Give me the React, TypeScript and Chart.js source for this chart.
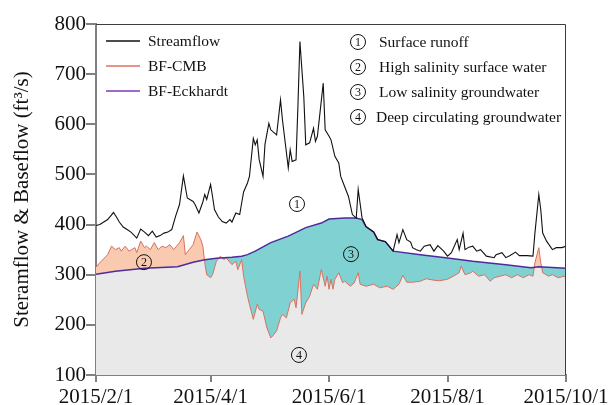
import { useEffect, useRef } from "react";
import { Chart, registerables } from "chart.js";

Chart.register(...registerables);

// Days counted from 2015/2/1
const tickDays = [0, 59, 120, 181, 242];
const tickLabels = ["2015/2/1", "2015/4/1", "2015/6/1", "2015/8/1", "2015/10/1"];

const streamDays = [
  0, 2, 4, 6, 9, 11, 12, 14, 16, 18, 21, 23, 25, 27, 29, 31, 33, 35, 37, 39,
  41, 43, 45, 47, 50, 51, 53, 55, 56, 57, 59, 60, 61, 63, 65, 67, 69, 70, 72, 74,
  75, 76, 78, 79, 81, 82, 83, 84, 86, 87, 89, 90, 93, 95, 96, 99, 100, 101, 103, 104,
  105, 107, 108, 110, 112, 113, 114, 117, 118, 120, 121, 123, 125, 126, 128, 130, 132, 134, 135, 137,
  139, 143, 145, 149, 153, 155, 156, 158, 160, 162, 163, 165, 167, 169, 172, 174, 176, 179, 181, 183,
  186, 187, 189, 190, 192, 194, 196, 198, 201, 205, 206, 209, 211, 213, 216, 218, 222, 225, 226, 228,
  229, 230, 232, 235, 237, 240, 242,
];
const streamFlow = [
  398, 400, 405, 410, 424, 412, 405, 395, 390, 385, 373, 391, 385, 378, 387, 375, 378, 383, 385, 390,
  417, 440, 497, 453, 446, 440, 423, 445, 460, 450, 480, 456, 430, 415, 406, 403, 410, 405, 423, 420,
  443, 465, 483, 496, 572, 559, 569, 530, 496, 560, 602, 589, 579, 649, 609, 513, 549, 526, 529, 640,
  765, 655, 559, 563, 592, 566, 576, 682, 589, 576, 569, 536, 523, 496, 476, 456, 420, 413, 470, 413,
  396, 385, 370, 366, 347, 380, 364, 390, 370, 365, 354, 350, 347, 357, 360, 347, 358, 347, 337, 344,
  370, 350, 383, 350, 355, 357, 347, 350, 337, 334, 340, 344, 334, 338, 345, 338, 338, 337, 383, 460,
  430, 383, 367, 350, 354, 354, 357,
];

const cmbDays = [
  0, 2, 6, 8, 10, 12, 13, 15, 17, 20, 21, 23, 25, 26, 28, 30, 32, 34, 36, 38,
  40, 43, 45, 46, 48, 50, 52, 54, 55, 56, 57, 59, 60, 62, 64, 66, 67, 70, 72, 73,
  75, 76, 78, 79, 81, 83, 84, 86, 88, 90, 91, 93, 95, 96, 98, 100, 102, 103, 105, 106,
  108, 110, 112, 114, 116, 118, 119, 120, 121, 122, 123, 125, 127, 128, 131, 133, 135, 136, 139, 143,
  146, 150, 153, 156, 158, 160, 163, 167, 170, 174, 177, 181, 184, 187, 188, 190, 193, 194, 197, 200,
  203, 205, 208, 211, 214, 217, 220, 223, 225, 226, 228, 229, 230, 233, 235, 238, 241, 242,
];
const cmbFlow = [
  315, 324, 340, 357, 350, 354, 347, 357, 347, 354, 344, 367, 354, 357, 350, 364, 350, 357, 354, 360,
  350, 364, 378, 340, 350, 360, 385, 370, 357, 324, 300, 294, 300, 327, 337, 330, 334, 320, 327, 310,
  330, 297, 257, 241, 211, 241, 231, 227, 194, 174, 178, 188, 214, 221, 214, 244, 251, 234, 307, 221,
  244, 257, 281, 271, 310, 277, 297, 271, 291, 271, 291, 304, 284, 287, 277, 284, 304, 281, 277, 281,
  274, 277, 271, 281, 299, 285, 285, 287, 292, 289, 288, 291, 297, 304, 317, 300, 304, 307, 297, 300,
  287, 294, 297, 300, 294, 300, 294, 300, 297, 324, 354, 324, 304, 297, 300, 294, 297, 294,
];

const eckDays = [
  0, 10, 25, 42, 50, 56, 62, 70, 75, 78, 82, 90, 99, 108, 116, 120, 128, 134, 137, 139,
  143, 145, 149, 153, 167, 180, 194, 211, 224, 228, 242,
];
const eckFlow = [
  301, 307, 313, 316, 325, 330, 333, 335, 337, 340, 347, 364, 377, 394, 403, 411, 413, 413, 410, 396,
  385, 370, 366, 347, 340, 334, 327, 320, 314, 316, 313,
];

const seriesNames = ["Streamflow", "BF-CMB", "BF-Eckhardt"];
const seriesColors = ["#111111", "#d9705f", "#4f2a9c"];
const legendColors = ["#111111", "#e0705f", "#8038b8"];
const zoneNumbers = ["1", "2", "3", "4"];
const zoneLabels = [
  "Surface runoff",
  "High salinity surface water",
  "Low salinity groundwater",
  "Deep circulating groundwater",
];

const toPoints = (xs: number[], ys: number[]) => xs.map((x, i) => ({ x, y: ys[i] }));

const SERIF = "'Liberation Serif', 'Times New Roman', serif";

function circled(ctx: CanvasRenderingContext2D, x: number, y: number, label: string) {
  ctx.beginPath();
  ctx.arc(x, y, 7.5, 0, Math.PI * 2);
  ctx.lineWidth = 1;
  ctx.strokeStyle = "#111";
  ctx.stroke();
  ctx.font = `12px ${SERIF}`;
  ctx.textAlign = "center";
  ctx.textBaseline = "middle";
  ctx.fillStyle = "#111";
  ctx.fillText(label, x, y + 0.5);
}

const decorPlugin = {
  id: "decor",
  afterDraw(chart: any) {
    const { ctx, chartArea: a, scales } = chart;
    const xs = scales.x;
    const ys = scales.y;
    ctx.save();

    // frame on top and right
    ctx.strokeStyle = "#3c3c3c";
    ctx.lineWidth = 1;
    ctx.beginPath();
    ctx.moveTo(a.left, a.top + 0.5);
    ctx.lineTo(a.right - 0.5, a.top + 0.5);
    ctx.lineTo(a.right - 0.5, a.bottom);
    ctx.stroke();

    // series legend
    seriesNames.forEach((name, i) => {
      const y = a.top + 17 + i * 25;
      ctx.strokeStyle = legendColors[i];
      ctx.lineWidth = 1.5;
      ctx.beginPath();
      ctx.moveTo(a.left + 10, y);
      ctx.lineTo(a.left + 44, y);
      ctx.stroke();
      ctx.fillStyle = "#111";
      ctx.font = `15.5px ${SERIF}`;
      ctx.textAlign = "left";
      ctx.textBaseline = "middle";
      ctx.fillText(name, a.left + 52, y + 1);
    });

    // zone key
    zoneLabels.forEach((label, i) => {
      const y = a.top + 18 + i * 25;
      circled(ctx, a.left + 262, y, zoneNumbers[i]);
      ctx.fillStyle = "#111";
      ctx.font = `15.5px ${SERIF}`;
      ctx.textAlign = "left";
      ctx.textBaseline = "middle";
      ctx.fillText(label, a.left + (i === 3 ? 280 : 283), y + 1);
    });

    // zone markers inside the plot (day, flow)
    const marks: [number, number, string][] = [
      [103.5, 441, zoneNumbers[0]],
      [24.7, 325, zoneNumbers[1]],
      [131.3, 341, zoneNumbers[2]],
      [104.5, 140, zoneNumbers[3]],
    ];
    marks.forEach(([d, v, t]) => circled(ctx, xs.getPixelForValue(d), ys.getPixelForValue(v), t));

    ctx.restore();
  },
};

export default function App() {
  const ref = useRef<HTMLCanvasElement | null>(null);

  useEffect(() => {
    if (!ref.current) return;
    const cmbPoints = toPoints(cmbDays, cmbFlow);
    const chart = new Chart(ref.current, {
      type: "line",
      data: {
        datasets: [
          {
            label: seriesNames[0],
            data: toPoints(streamDays, streamFlow),
            borderColor: seriesColors[0],
            borderWidth: 1.1,
            pointRadius: 0,
            fill: false,
            order: 1,
          },
          {
            label: seriesNames[1],
            data: cmbPoints,
            borderColor: seriesColors[1],
            borderWidth: 1,
            pointRadius: 0,
            fill: { target: 2, above: "#f9caaf", below: "#80d2d2" },
            order: 5,
          },
          {
            label: seriesNames[2],
            data: toPoints(eckDays, eckFlow),
            borderColor: seriesColors[2],
            borderWidth: 1.5,
            pointRadius: 0,
            fill: false,
            order: 2,
          },
          {
            label: "base",
            data: cmbPoints,
            borderWidth: 0,
            borderColor: "rgba(0,0,0,0)",
            backgroundColor: "#e9e9e9",
            pointRadius: 0,
            fill: "start",
            order: 10,
          },
        ],
      },
      options: {
        responsive: false,
        animation: false,
        events: [],
        layout: { padding: { left: 0, top: 24, right: 42, bottom: 0 } },
        plugins: { legend: { display: false }, tooltip: { enabled: false } },
        elements: { line: { tension: 0 } },
        scales: {
          x: {
            type: "linear",
            min: 0,
            max: 242,
            afterBuildTicks: (s: any) => {
              s.ticks = tickDays.map((v) => ({ value: v }));
            },
            afterFit: (s: any) => {
              s.height = 30;
              s.paddingLeft = 0;
              s.paddingRight = 0;
            },
            ticks: {
              autoSkip: false,
              maxRotation: 0,
              padding: 3,
              color: "#111",
              font: { family: SERIF, size: 21 },
              callback: (v: any) => {
                const i = tickDays.indexOf(Number(v));
                return i >= 0 ? tickLabels[i] : "";
              },
            },
            grid: { drawOnChartArea: false, drawTicks: true, tickLength: 7, color: "#808080", lineWidth: 2 },
            border: { display: true, color: "#808080", width: 2 },
          },
          y: {
            min: 100,
            max: 800,
            afterFit: (s: any) => {
              s.width = 96;
            },
            ticks: {
              stepSize: 100,
              padding: 0,
              color: "#111",
              font: { family: SERIF, size: 21 },
            },
            title: {
              display: true,
              text: "Steramflow & Baseflow (ft³/s)",
              color: "#111",
              font: { family: SERIF, size: 21 },
              padding: { top: 10, bottom: 0 },
            },
            grid: { drawOnChartArea: false, drawTicks: true, tickLength: 10, color: "#808080", lineWidth: 2 },
            border: { display: true, color: "#808080", width: 2 },
          },
        },
      },
      plugins: [decorPlugin],
    });
    return () => chart.destroy();
  }, []);

  return (
    <div style={{ position: "fixed", left: 0, top: 0, width: 608, height: 405, background: "#fff" }}>
      <canvas ref={ref} width={608} height={405} style={{ display: "block" }} />
    </div>
  );
}
